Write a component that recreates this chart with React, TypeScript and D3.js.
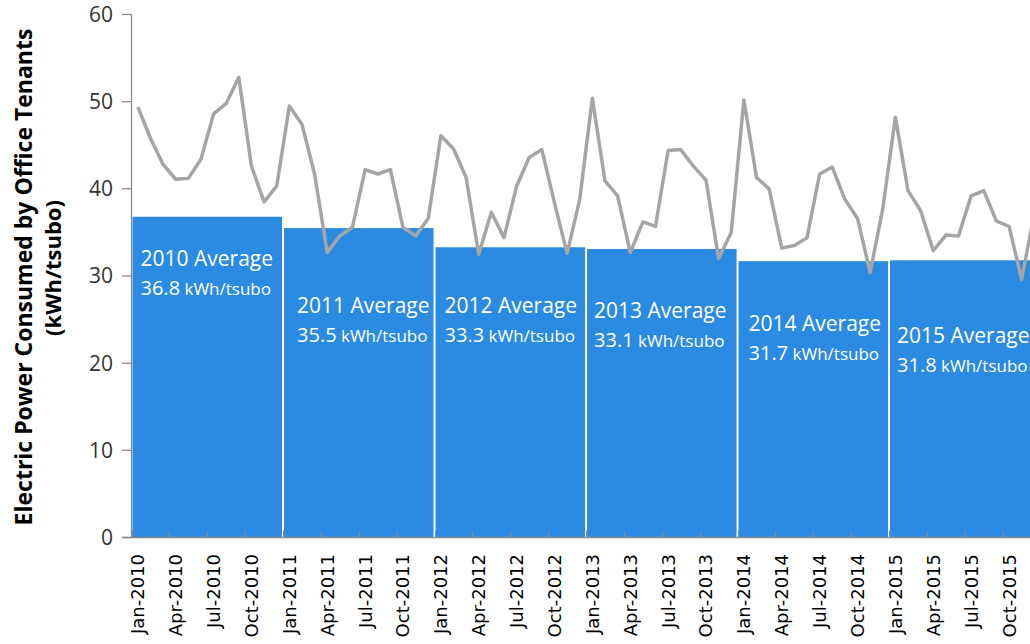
import React from "react";
import * as d3 from "d3";

const monthNames = ["Jan", "Feb", "Mar", "Apr", "May", "Jun", "Jul", "Aug", "Sep", "Oct", "Nov", "Dec"];
const years = [2010, 2011, 2012, 2013, 2014, 2015];

const kwh2010 = [49.4, 45.8, 42.8, 41.1, 41.2, 43.4, 48.6, 49.8, 52.8, 42.6, 38.5, 40.3];
const kwh2011 = [49.5, 47.4, 41.7, 32.7, 34.6, 35.6, 42.2, 41.7, 42.2, 35.6, 34.6, 36.6];
const kwh2012 = [46.1, 44.6, 41.3, 32.5, 37.3, 34.4, 40.3, 43.6, 44.5, 38.4, 32.6, 38.8];
const kwh2013 = [50.4, 40.9, 39.2, 32.7, 36.2, 35.7, 44.4, 44.5, 42.6, 41.0, 32.0, 35.0];
const kwh2014 = [50.2, 41.3, 40.0, 33.2, 33.5, 34.4, 41.7, 42.5, 38.8, 36.6, 30.4, 37.7];
const kwh2015 = [48.2, 39.8, 37.5, 32.9, 34.7, 34.6, 39.2, 39.8, 36.3, 35.7, 29.6, 37.2];

const yearlyAverages = [36.8, 35.5, 33.3, 33.1, 31.7, 31.8];
const yTicks = [0, 10, 20, 30, 40, 50, 60];

// layout of the in-bar labels: [dx from bar start, baseline of first line]
const labelLayout = [
  [9, 266],
  [14, 313],
  [10, 313],
  [8, 318],
  [11, 331],
  [8, 343],
];

const W = 1030;
const H = 644;
const X0 = 131.5;
const X1 = 1040.6;
const Y0 = 537.5;
const Y1 = 14.5;

export default function App() {
  const monthLabels: string[] = [];
  years.forEach((y) => monthNames.forEach((m) => monthLabels.push(`${m}-${y}`)));
  const series = [kwh2010, kwh2011, kwh2012, kwh2013, kwh2014, kwh2015].flat();
  const data = monthLabels.map((label, i) => ({ label, value: series[i] }));

  const x = d3.scaleBand<string>().domain(monthLabels).range([X0, X1]).padding(0);
  const y = d3.scaleLinear().domain([0, 60]).range([Y0, Y1]);
  const bw = x.bandwidth();

  const line = d3
    .line<{ label: string; value: number }>()
    .x((d) => (x(d.label) as number) + bw / 2)
    .y((d) => y(d.value));

  const bars = years.map((yr, i) => {
    const first = x(`Jan-${yr}`) as number;
    const last = (x(`Dec-${yr}`) as number) + bw;
    return { yr, avg: yearlyAverages[i], x0: first, x1: last };
  });

  const tickMonths = monthLabels.filter((_, i) => i % 3 === 0);

  return (
    <div style={{ position: "absolute", left: 0, top: 0 }}>
      <svg width={W} height={H} style={{ display: "block", background: "#fff" }}>
        {/* bars */}
        {bars.map((b) => (
          <rect
            key={b.yr}
            x={b.x0 + 1}
            y={y(b.avg)}
            width={b.x1 - b.x0 - 2}
            height={Y0 - y(b.avg)}
            fill="#2b8ae2"
          />
        ))}
        {/* x ticks (inside) */}
        {tickMonths.map((m) => {
          const tx = Math.round(x(m) as number) + 0.5;
          return <line key={m} x1={tx} x2={tx} y1={Y0} y2={Y0 - 7} stroke="#8a8a8a" strokeWidth={1} />;
        })}
        {/* axes */}
        <line x1={122} x2={W} y1={Y0} y2={Y0} stroke="#8a8a8a" strokeWidth={1.3} />
        <line x1={X0} x2={X0} y1={Y1} y2={Y0} stroke="#8a8a8a" strokeWidth={1.3} />
        {yTicks.map((t) => (
          <g key={t}>
            <line x1={122} x2={X0} y1={y(t)} y2={y(t)} stroke="#8a8a8a" strokeWidth={1.3} />
            <text
              x={113}
              y={y(t)}
              dy="0.35em"
              textAnchor="end"
              fontFamily="Open Sans"
              fontSize={21}
              fill="#333"
            >
              {t}
            </text>
          </g>
        ))}
        {/* line */}
        <path d={line(data) || ""} fill="none" stroke="#a5a5a5" strokeWidth={3.5} strokeLinejoin="round" />
        {/* bar labels */}
        {bars.map((b, i) => {
          const [dx, by] = labelLayout[i];
          return (
            <g key={`l${b.yr}`} fill="#fff" fontFamily="Open Sans">
              <text x={b.x0 + dx} y={by} fontSize={21}>
                {`${b.yr} Average`}
              </text>
              <text x={b.x0 + dx} y={by + 29} fontSize={20}>
                {b.avg.toFixed(1)}
                <tspan fontSize={17}> kWh/tsubo</tspan>
              </text>
            </g>
          );
        })}
        {/* x labels */}
        {tickMonths.map((m) => {
          const cx = (x(m) as number) + bw / 2;
          return (
            <text
              key={`t${m}`}
              transform={`translate(${cx},554) rotate(-90)`}
              textAnchor="end"
              dy="0.36em"
              fontFamily="DejaVu Sans"
              fontSize={18}
              fill="#000"
            >
              {m}
            </text>
          );
        })}
        {/* y title */}
        <text
          transform={`translate(24,277) rotate(-90)`}
          textAnchor="middle"
          dy="0.35em"
          fontFamily="Open Sans"
          fontWeight="bold"
          fontSize={23}
          fill="#000"
        >
          Electric Power Consumed by Office Tenants
        </text>
        <text
          transform={`translate(53,268) rotate(-90)`}
          textAnchor="middle"
          dy="0.35em"
          fontFamily="Open Sans"
          fontWeight="bold"
          fontSize={22}
          fill="#000"
        >
          (kWh/tsubo)
        </text>
      </svg>
    </div>
  );
}
